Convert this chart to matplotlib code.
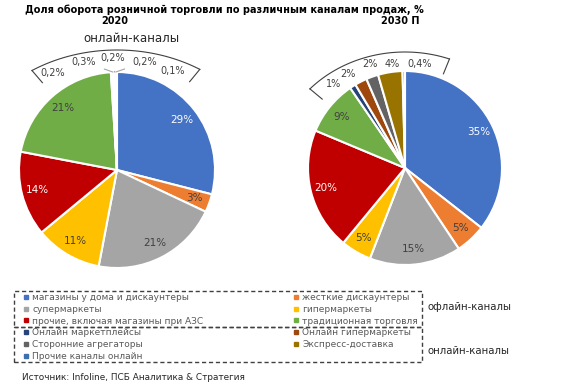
import numpy as np
import matplotlib.pyplot as plt
from matplotlib.lines import Line2D
from matplotlib.patches import Rectangle

# данные
offline_names = ['магазины у дома и дискаунтеры', 'жесткие дискаунтеры', 'супермаркеты',
                 'гипермаркеты', 'прочие, включая магазины при АЗС', 'традиционная торговля']
online_names = ['Онлайн маркетплейсы', 'Онлайн гипермаркеты', 'Сторонние агрегаторы',
                'Экспресс-доставка', 'Прочие каналы онлайн']
share_2020 = [29, 3, 21, 11, 14, 21, 0.2, 0.3, 0.2, 0.2, 0.1]
share_2030 = [35, 5, 15, 5, 20, 9, 1, 2, 2, 4, 0.4]
labels_2020 = ['29%', '3%', '21%', '11%', '14%', '21%', '0,2%', '0,3%', '0,2%', '0,2%', '0,1%']
labels_2030 = ['35%', '5%', '15%', '5%', '20%', '9%', '1%', '2%', '2%', '4%', '0,4%']

colors = ['#4472C4', '#ED7D31', '#A5A5A5', '#FFC000', '#C00000', '#70AD47',
          '#264478', '#9E480E', '#636363', '#997300', '#3E6FB0']
txt_col = ['white', '#404040', '#404040', '#404040', 'white', '#404040']

W, H = 586, 383
fig = plt.figure(figsize=(W / 100, H / 100), dpi=100)
ax = fig.add_axes([0, 0, 1, 1])


def Y(y):
    return H - y


# позиции подписей онлайн-сегментов (x, y сверху)
small_pos_2020 = [(53, 73), (84, 62), (113, 58), (145, 62), (173, 71)]
small_pos_2030 = [(334, 84), (348, 74), (370, 64), (392, 64), (420, 64)]
leaders_2020 = [False, True, True, True, False]


def draw_pie(vals, labels, cx, cy, r, small_pos, leaders, arc):
    wedges, _ = ax.pie(vals, colors=colors, startangle=90, counterclock=False,
                       center=(cx, Y(cy)), radius=r,
                       wedgeprops=dict(edgecolor='white', linewidth=1.5))
    for i, w in enumerate(wedges):
        mid = np.deg2rad((w.theta1 + w.theta2) / 2)
        if i < 6:
            d = 0.84 * r
            ax.text(cx + d * np.cos(mid), Y(cy) + d * np.sin(mid), labels[i],
                    ha='center', va='center', fontsize=7.5, color=txt_col[i])
        else:
            px, py = small_pos[i - 6]
            if leaders[i - 6]:
                ax.annotate(labels[i], xy=(cx + r * np.cos(mid), Y(cy) + r * np.sin(mid)),
                            xytext=(px, Y(py)), ha='center', va='center',
                            fontsize=7, color='#404040',
                            arrowprops=dict(arrowstyle='-', color='#A6A6A6', lw=0.8,
                                            shrinkA=4, shrinkB=0))
            else:
                ax.text(px, Y(py), labels[i], ha='center', va='center',
                        fontsize=7, color='#404040')
    # дуга над онлайн-каналами
    a, b, t1, t2 = arc
    t = np.deg2rad(np.linspace(t1, t2, 60))
    xs = cx + a * np.cos(t)
    ys = Y(cy) + b * np.sin(t)
    ax.plot(xs, ys, color='#404040', lw=0.8)
    for xe, ye in [(xs[0], ys[0]), (xs[-1], ys[-1])]:
        dx, dy = cx - xe, Y(cy) - ye
        n = np.hypot(dx, dy)
        ax.plot([xe, xe + 16 * dx / n], [ye, ye + 16 * dy / n], color='#404040', lw=0.8)


draw_pie(share_2020, labels_2020, 117, 170, 98, small_pos_2020, leaders_2020,
         (152, 120, 57, 124))
draw_pie(share_2030, labels_2030, 405, 168, 97, small_pos_2030, [False] * 5,
         (130, 116, 70, 137))

ax.set_xlim(0, W)
ax.set_ylim(0, H)
ax.set_aspect('auto')
ax.axis('off')

# заголовки
ax.text(25, Y(10), 'Доля оборота розничной торговли по различным каналам продаж, %',
        ha='left', va='center', fontsize=7, fontweight='bold', color='black')
ax.text(115, Y(21), '2020', ha='center', va='center', fontsize=7, fontweight='bold')
ax.text(400, Y(21), '2030 П', ha='center', va='center', fontsize=7, fontweight='bold')
ax.text(131, Y(38), 'онлайн-каналы', ha='center', va='center', fontsize=8.5, color='#262626')

# легенда: одна, с двумя колонками; пунктирные рамки рисуются отдельно
all_names = offline_names + online_names
order = [0, 2, 4, 6, 8, 10, 1, 3, 5, 7, 9]
handles = [Line2D([], [], marker='s', ls='none', markersize=3, color=colors[i]) for i in order]
leg = fig.legend(handles, [all_names[i] for i in order], ncol=2, mode='expand',
                 loc='upper left', bbox_to_anchor=(24 / W, 1 - 297 / H, 394 / W, 0.01),
                 fontsize=6.5, frameon=False, handlelength=0.5, handletextpad=0.4,
                 labelspacing=0.3, borderpad=0, borderaxespad=0, labelcolor='#595959')

for top, bottom in [(291, 327), (327, 362)]:
    ax.add_patch(Rectangle((14, Y(bottom)), 408, bottom - top, fill=False,
                           edgecolor='#404040', lw=1, ls=(0, (3, 2))))

ax.text(428, Y(307), 'офлайн-каналы', ha='left', va='center', fontsize=7.3, color='#262626')
ax.text(428, Y(351), 'онлайн-каналы', ha='left', va='center', fontsize=7.3, color='#262626')
ax.text(22, Y(377), 'Источник: Infoline, ПСБ Аналитика & Стратегия', ha='left',
        va='center', fontsize=6.4, color='#262626')

fig.savefig('out.png', dpi=100)
